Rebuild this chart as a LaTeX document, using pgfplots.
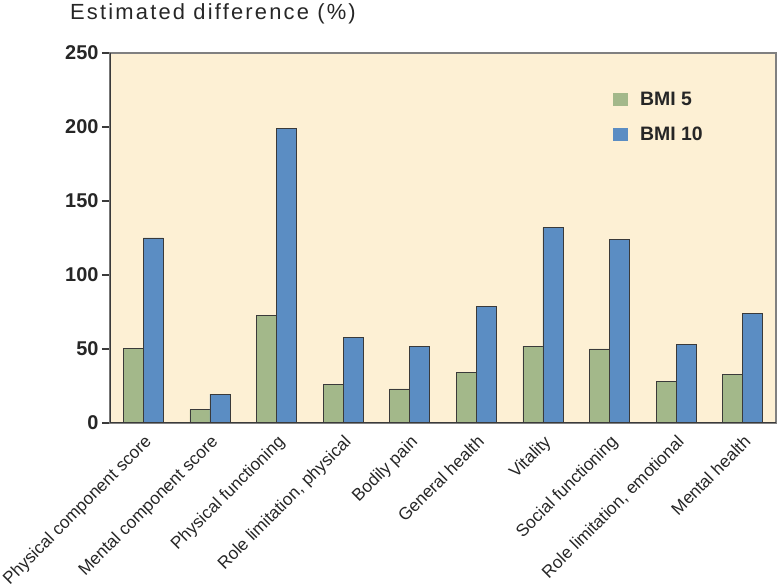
\documentclass[border=0pt]{standalone}
\usepackage{pgfplots}
\pgfplotsset{compat=1.18}
\usepackage{fontspec}
\setmainfont{Liberation Sans}
\definecolor{cream}{HTML}{FDF0D4}
\definecolor{bgreen}{HTML}{A3B88A}
\definecolor{bblue}{HTML}{5B8DC3}
\definecolor{outl}{HTML}{3A3A3A}
\begin{document}
\begin{tikzpicture}[x=1bp,y=1bp]
\useasboundingbox (-110,-165) rectangle (667,423);
\begin{axis}[
  at={(0,0)}, anchor=south west,
  scale only axis, width=666bp, height=370bp,
  xmin=-0.5, xmax=9.5, ymin=0, ymax=250,
  ytick={0,50,100,150,200,250},
  xtick={0,1,2,3,4,5,6,7,8,9},
  xticklabels={Physical component score,Mental component score,Physical functioning,{Role limitation, physical},Bodily pain,General health,Vitality,Social functioning,{Role limitation, emotional},Mental health},
  xtick style={draw=none},
  ytick pos=left,
  tick align=outside,
  major tick length=8bp,
  ytick style={outl, line width=1.2bp},
  /pgf/number format/assume math mode=true,
  yticklabel style={font=\fontsize{20}{22}\selectfont\bfseries, text=black!85},
  xticklabel style={font=\fontsize{17.3}{19}\selectfont, text=black!85, rotate=45, anchor=north east, inner sep=2bp},
  axis background/.style={fill=cream},
  axis line style={draw=gray, line width=1.5bp},
  ybar=0pt, bar width=20bp,
  legend style={draw=none, fill=none, at={(0.75,0.905)}, anchor=north west,
    font=\fontsize{19.5}{21}\selectfont\bfseries, text=black!85, row sep=16bp,
    legend cell align=left},
  legend image code/.code={\fill[#1, draw=none] (0bp,-6.5bp) rectangle (15bp,6.5bp); \path (25bp,0bp);},
  every axis plot/.append style={draw=outl, line width=0.8bp},
]
\addplot[fill=bgreen] coordinates {(0,50.5) (1,9) (2,72.5) (3,26) (4,23) (5,34) (6,52) (7,50) (8,28) (9,32.5)};
\addplot[fill=bblue] coordinates {(0,125) (1,19.5) (2,199) (3,58) (4,52) (5,79) (6,132) (7,124) (8,53) (9,74)};
\legend{BMI 5, BMI 10}
\draw[outl, line width=2bp] (rel axis cs:0,1) -- (rel axis cs:0,0) -- (rel axis cs:1,0);
\end{axis}
\node[anchor=base west, inner sep=0pt, font=\fontsize{22}{24}\selectfont\addfontfeatures{LetterSpace=10}, text=black!85] at (-40,403) {Estimated difference (\%)};
\end{tikzpicture}
\end{document}
